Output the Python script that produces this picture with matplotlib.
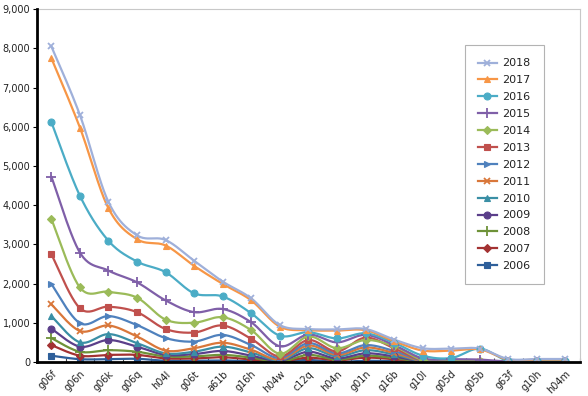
import numpy as np
import matplotlib
matplotlib.use("Agg")
import matplotlib.pyplot as plt
from matplotlib.lines import Line2D

categories = ['g06f','g06n','g06k','g06q','h04l','g06t','a61b','g16h','h04w','c12q',
              'h04n','g01n','g16b','g10l','g05d','g05b','g63f','g10h','h04m']

years = ['2018','2017','2016','2015','2014','2013','2012','2011','2010','2009','2008','2007','2006']

v2018 = [8050, 6300, 4080, 3230, 3110, 2580, 2050, 1620, 940, 840, 830, 840, 570, 350, 340, 340, 75, 75, 75]
v2017 = [7750, 5980, 3920, 3130, 2970, 2450, 1990, 1570, 900, 810, 800, 810, 530, 290, 290, 320, 60, 60, 60]
v2016 = [6120, 4240, 3090, 2560, 2290, 1750, 1670, 1240, 670, 760, 600, 730, 490, 160, 100, 340, 25, 25, 25]
v2015 = [4730, 2790, 2330, 2030, 1570, 1270, 1350, 1010, 400, 700, 500, 690, 430, 90, 70, 60, 10, 10, 10]
v2014 = [3650, 1900, 1790, 1640, 1080, 1000, 1140, 810, 210, 650, 350, 560, 400, 50, 20, 20, 5, 5, 5]
v2013 = [2750, 1370, 1410, 1270, 840, 750, 930, 590, 140, 560, 270, 620, 350, 40, 10, 10, 5, 5, 5]
v2012 = [1990, 990, 1170, 940, 610, 520, 690, 430, 100, 480, 220, 430, 280, 30, 5, 5, 0, 0, 0]
v2011 = [1470, 790, 930, 650, 290, 350, 490, 310, 60, 420, 180, 370, 230, 20, 0, 0, 0, 0, 0]
v2010 = [1170, 500, 710, 480, 220, 260, 390, 240, 40, 350, 140, 300, 190, 15, 0, 0, 0, 0, 0]
v2009 = [850, 390, 560, 390, 180, 200, 280, 160, 30, 260, 90, 220, 140, 10, 0, 0, 0, 0, 0]
v2008 = [610, 260, 300, 260, 140, 140, 180, 110, 0, 180, 60, 160, 100, 5, 0, 0, 0, 0, 0]
v2007 = [430, 160, 180, 180, 90, 90, 120, 60, 10, 110, 40, 110, 70, 5, 0, 0, 0, 0, 0]
v2006 = [160, 70, 70, 80, 30, 30, 40, 15, 5, 50, 0, 30, 20, 0, 0, 0, 0, 0, 0]

series = [v2018, v2017, v2016, v2015, v2014, v2013, v2012, v2011, v2010, v2009, v2008, v2007, v2006]

colors = ['#9FB0DA', '#F79646', '#4BACC6', '#7F5FA8', '#9BBB59', '#C0504D', '#4F81BD',
          '#D9773A', '#3A8FA5', '#5B3F8A', '#6E9238', '#A33232', '#2E5F9A']
markers = ['x', '^', 'o', '+', 'D', 's', '>', 'x', '^', 'o', '+', 'D', 's']
msizes = [5, 5, 5, 7, 4, 4.5, 5, 5, 5, 5, 7, 4, 4.5]


def smooth(y, n=24):
    y = np.asarray(y, dtype=float)
    x = np.arange(len(y), dtype=float)
    xs, ys = [], []
    for i in range(len(y) - 1):
        p0 = (x[i - 1], y[i - 1]) if i > 0 else (x[i], y[i])
        p1 = (x[i], y[i])
        p2 = (x[i + 1], y[i + 1])
        p3 = (x[i + 2], y[i + 2]) if i + 2 < len(y) else (x[i + 1], y[i + 1])
        c1 = (p1[0] + (p2[0] - p0[0]) / 6, p1[1] + (p2[1] - p0[1]) / 6)
        c2 = (p2[0] - (p3[0] - p1[0]) / 6, p2[1] - (p3[1] - p1[1]) / 6)
        t = np.linspace(0, 1, n, endpoint=(i == len(y) - 2))
        b0 = (1 - t) ** 3
        b1 = 3 * (1 - t) ** 2 * t
        b2 = 3 * (1 - t) * t ** 2
        b3 = t ** 3
        xs.append(b0 * p1[0] + b1 * c1[0] + b2 * c2[0] + b3 * p2[0])
        ys.append(b0 * p1[1] + b1 * c1[1] + b2 * c2[1] + b3 * p2[1])
    return np.concatenate(xs), np.concatenate(ys)


fig = plt.figure(figsize=(5.88, 3.96), dpi=100)
ax = fig.add_axes([0.063, 0.086, 0.923, 0.891])

xi = np.arange(len(categories))
handles = []
for k in range(len(series) - 1, -1, -1):
    vals = series[k]
    sx, sy = smooth(vals)
    ax.plot(sx, sy, color=colors[k], lw=1.6, zorder=2 + (len(series) - k) * 0.01, solid_capstyle='round')
    mew = 1.3 if markers[k] in ('x', '+') else 0.8
    ax.plot(xi, vals, linestyle='none', marker=markers[k], markersize=msizes[k],
            color=colors[k], mec=colors[k], mew=mew, zorder=3)

for k in range(len(series)):
    mew = 1.3 if markers[k] in ('x', '+') else 0.8
    handles.append(Line2D([0], [0], color=colors[k], lw=1.6, marker=markers[k],
                          markersize=msizes[k], mec=colors[k], mew=mew))

ax.set_xlim(-0.5, len(categories) - 0.5)
ax.set_ylim(0, 9000)
ax.set_yticks(np.arange(0, 9001, 1000))
ax.set_yticklabels([f"{v:,}" for v in range(0, 9001, 1000)], fontsize=7, color='#222222')
ax.set_xticks(xi)
ax.set_xticklabels(categories, rotation=45, ha='right', rotation_mode='anchor',
                   fontsize=7, color='#222222')
ax.set_xticks(np.arange(-0.5, len(categories), 1), minor=True)
ax.tick_params(axis='x', which='major', length=0, pad=5)
ax.tick_params(axis='x', which='minor', direction='in', length=3, width=0.8, color='#444444')
ax.tick_params(axis='y', which='major', direction='out', length=3, width=0.8, pad=2)

for side in ('left', 'bottom'):
    ax.spines[side].set_linewidth(2)
    ax.spines[side].set_color('black')
    ax.spines[side].set_zorder(5)
for side in ('top', 'right'):
    ax.spines[side].set_linewidth(0.8)
    ax.spines[side].set_color('#C8C8C8')

leg = ax.legend(handles, years, loc='upper left', bbox_to_anchor=(0.788, 0.898),
                fontsize=8, frameon=True, fancybox=False, edgecolor='#A0A0A0',
                handlelength=1.7, handletextpad=0.5, labelspacing=0.62,
                borderpad=1.2, borderaxespad=0)
leg.get_frame().set_linewidth(0.8)
for t in leg.get_texts():
    t.set_color('#222222')

fig.savefig('out.png', dpi=100)
